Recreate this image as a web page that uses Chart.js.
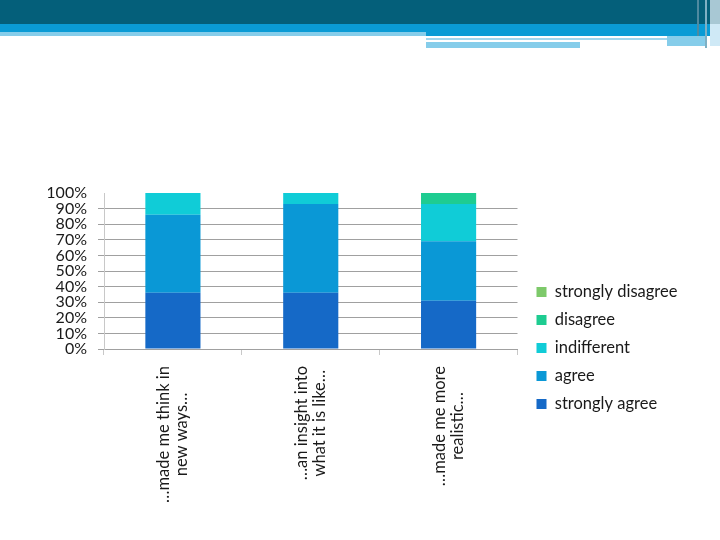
<!DOCTYPE html>
<html>
<head>
<meta charset="utf-8">
<script src="https://cdn.jsdelivr.net/npm/chart.js@4.4.1/dist/chart.umd.min.js"></script>
<style>
  body { margin: 0; background: #fff; width: 720px; height: 540px; overflow: hidden; position: relative; }
  .band { position: absolute; }
  #wrap { position: absolute; left: 0; top: 170px; width: 720px; height: 354px; }
</style>
</head>
<body>
<!-- slide header bands -->
<div class="band" style="left:0;top:0;width:720px;height:24px;background:#045f7a"></div>
<div class="band" style="left:0;top:24px;width:720px;height:8px;background:#0a9bd5"></div>
<div class="band" style="left:0;top:32px;width:426px;height:4px;background:#86cdea"></div>
<div class="band" style="left:426px;top:32px;width:294px;height:4px;background:#0a9bd5"></div>
<div class="band" style="left:426px;top:38px;width:241px;height:2px;background:#9fd6ee"></div>
<div class="band" style="left:426px;top:42px;width:154px;height:6px;background:#86cdea"></div>
<div class="band" style="left:667px;top:36px;width:38px;height:10px;background:#86cdea"></div>
<div class="band" style="left:697px;top:0;width:2px;height:36px;background:#4f8aa0"></div>
<div class="band" style="left:705px;top:0;width:2px;height:48px;background:#7fb0c4"></div>
<div class="band" style="left:710px;top:0;width:10px;height:24px;background:#a8c8d4"></div>
<div class="band" style="left:710px;top:24px;width:10px;height:22px;background:#cfe9f6"></div>

<div id="wrap"><canvas id="chart" width="720" height="354"></canvas></div>

<script>
// categories (two-line labels) and percentage shares per answer
const categories = [
  ["…made me think in", "new ways…"],
  ["…an insight into", "what it is like…"],
  ["…made me more", "realistic…"]
];
const stronglyAgree    = [36, 36, 31];
const agree            = [50, 57, 38];
const indifferent      = [14, 7, 24];
const disagree         = [0, 0, 7];
const stronglyDisagree = [0, 0, 0];
const yMax = 100;
const yStep = 10;

const textColor = "#1a1a1a";

// rotated, centred two-line category labels under each bar
const xLabels = {
  id: "xLabels",
  afterDraw(chart) {
    const { ctx } = chart;
    const x = chart.scales.x;
    ctx.save();
    ctx.font = "16.5px Lato";
    ctx.fillStyle = textColor;
    ctx.textAlign = "center";
    ctx.textBaseline = "middle";
    categories.forEach((lines, i) => {
      const cx = x.getPixelForValue(i);
      const w = Math.max(...lines.map(l => ctx.measureText(l).width));
      ctx.save();
      ctx.translate(cx, x.top + 17 + w / 2);
      ctx.rotate(-Math.PI / 2);
      lines.forEach((l, j) => ctx.fillText(l, 0, (j - (lines.length - 1) / 2) * 18));
      ctx.restore();
    });
    ctx.restore();
  }
};

// small gap between plot and legend
const legendGap = {
  id: "legendGap",
  afterLayout(chart) {
    chart.legend.left += 7.5;
    chart.legend.right += 7.5;
    chart.legend.top += 1;
    chart.legend.bottom += 1;
  }
};

new Chart(document.getElementById("chart"), {
  type: "bar",
  data: {
    labels: categories,
    datasets: [
      { label: "strongly agree", data: stronglyAgree, backgroundColor: "#1569c7" },
      { label: "agree", data: agree, backgroundColor: "#0a98d6" },
      { label: "indifferent", data: indifferent, backgroundColor: "#10ccd7" },
      { label: "disagree", data: disagree, backgroundColor: "#1ecc91" },
      { label: "strongly disagree", data: stronglyDisagree, backgroundColor: "#7dc96a" }
    ]
  },
  options: {
    responsive: false,
    animation: false,
    categoryPercentage: 1,
    barPercentage: 0.4,
    borderWidth: 0,
    layout: { padding: { left: 48, top: 23, right: 46, bottom: 23 } },
    plugins: {
      tooltip: { enabled: false },
      legend: {
        position: "right",
        align: "center",
        reverse: true,
        labels: { boxWidth: 10, boxHeight: 10, padding: 11.5, color: textColor, font: { family: "Lato", size: 16.5 } }
      }
    },
    scales: {
      x: {
        stacked: true,
        ticks: { display: false },
        grid: { drawOnChartArea: false, tickLength: 6, color: "#c8c8c8", offset: true },
        border: { color: "#a0a0a0" },
        afterFit: s => { s.height = 152; }
      },
      y: {
        stacked: true,
        min: 0,
        max: yMax,
        ticks: {
          stepSize: yStep, autoSkip: false, padding: 11, color: textColor,
          font: { family: "Lato", size: 16 }, callback: v => v + "%"
        },
        grid: {
          tickLength: 6,
          color: c => (c.tick && c.tick.value === yMax ? "rgba(0,0,0,0)" : "#a0a0a0")
        },
        border: { color: "#c8c8c8" },
        afterFit: s => { s.width = 56; }
      }
    }
  },
  plugins: [xLabels, legendGap]
});
</script>
</body>
</html>
